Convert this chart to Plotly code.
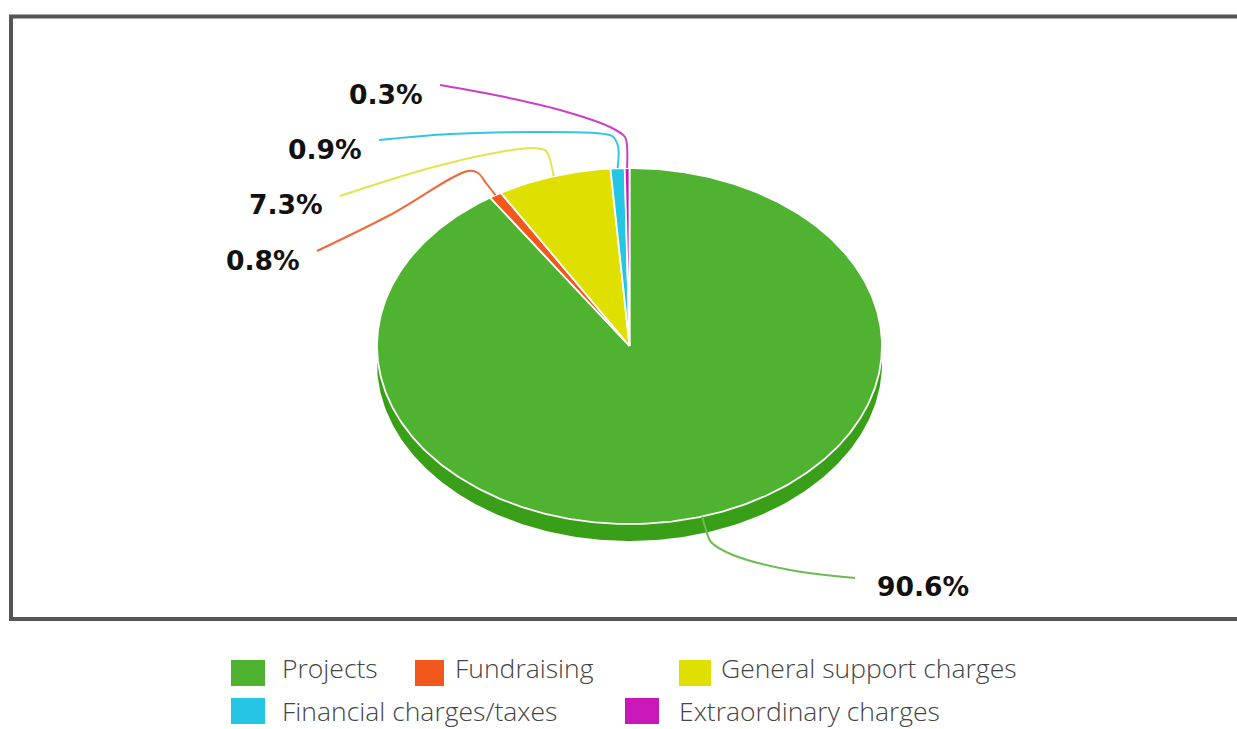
import numpy as np
import plotly.graph_objects as go

categories = ["Projects", "Fundraising", "General support charges", "Financial charges/taxes", "Extraordinary charges"]
values = [90.6, 0.8, 7.3, 0.9, 0.3]
value_labels = ["90.6%", "0.8%", "7.3%", "0.9%", "0.3%"]
colors = ["#50b231", "#f2581c", "#dfe000", "#25c5e6", "#c917b9"]
line_colors = ["#6dbb52", "#ee6a3c", "#e2e34f", "#35c3e6", "#cb3fc4"]

W, H = 1237, 729
CX, CY, A, B, DEPTH = 629.5, 346, 252.5, 178, 17


def pt(theta):
    return CX + A * np.sin(theta), CY - B * np.cos(theta)


fractions = np.array(values) / sum(values)
edges = np.concatenate([[0], np.cumsum(fractions)]) * 2 * np.pi
mids = (edges[:-1] + edges[1:]) / 2

fig = go.Figure()

# extruded rim
t = np.linspace(np.pi / 2, 3 * np.pi / 2, 200)
xr, yr = pt(t)
fig.add_trace(go.Scatter(
    x=np.concatenate([xr, xr[::-1]]), y=np.concatenate([yr, yr[::-1] + DEPTH]),
    mode="lines", fill="toself", fillcolor="#3a9f18", line=dict(width=0),
    hoverinfo="skip", showlegend=False))

# slices
for i, name in enumerate(categories):
    n = max(int((edges[i + 1] - edges[i]) * 80), 4)
    t = np.linspace(edges[i], edges[i + 1], n)
    xs, ys = pt(t)
    fig.add_trace(go.Scatter(
        x=np.concatenate([[CX], xs, [CX]]), y=np.concatenate([[CY], ys, [CY]]),
        mode="lines", fill="toself", fillcolor=colors[i],
        line=dict(color="white", width=1.8), name=name,
        text=f"{name}: {value_labels[i]}", hoverinfo="text", hoveron="fills", showlegend=False))

# leader-line routes, outward from each slice's rim point to its label
leader_routes = [
    [(706, 530), (711, 542), (733, 555), (790, 570), (855, 578)],
    [(486, 183), (478, 173), (468, 171), (390, 215), (317, 251)],
    [(550, 160), (546, 151), (534, 148), (500, 152), (430, 168), (340, 196)],
    [(618, 146), (612, 136), (595, 133), (530, 132), (450, 134), (379, 140)],
    [(627, 146), (625, 137), (610, 127), (560, 110), (500, 96), (440, 85)],
]
label_pos = [(923, 586), (263, 260), (286, 204), (325, 149), (386, 94)]

for i, route in enumerate(leader_routes):
    ax, ay = pt(mids[i])
    fig.add_trace(go.Scatter(
        x=[ax] + [p[0] for p in route], y=[ay] + [p[1] for p in route],
        mode="lines", line=dict(color=line_colors[i], width=2, shape="spline", smoothing=1.0),
        hoverinfo="skip", showlegend=False))
    fig.add_annotation(x=label_pos[i][0], y=label_pos[i][1], text=f"<b>{value_labels[i]}</b>",
                       showarrow=False, xanchor="center", yanchor="middle",
                       font=dict(family="DejaVu Sans", size=26.6, color="#111111"))

# frame
shapes = [dict(type="rect", xref="x", yref="y", x0=11, y0=16.5, x1=1260, y1=619,
               line=dict(color="#555555", width=4), layer="below")]

# legend
swatches = [(231, 265, 660, 686), (415, 444, 660, 686), (679, 711, 660, 686),
            (231, 265, 698, 724), (625, 659, 698, 724)]
legend_text_pos = [(282, 668), (455, 668), (721, 668), (282, 711), (679, 711)]
for i, name in enumerate(categories):
    x0, x1, y0, y1 = swatches[i]
    shapes.append(dict(type="rect", xref="x", yref="y", x0=x0, x1=x1, y0=y0, y1=y1,
                       fillcolor=colors[i], line=dict(width=0)))
    fig.add_annotation(x=legend_text_pos[i][0], y=legend_text_pos[i][1], text=name,
                       showarrow=False, xanchor="left", yanchor="middle", xshift=-2,
                       font=dict(family="Open Sans", size=26.5, color="#444444", weight=300))

fig.update_layout(
    width=W, height=H, margin=dict(l=0, r=0, t=0, b=0), autosize=False,
    paper_bgcolor="white", plot_bgcolor="white", shapes=shapes, showlegend=False,
    xaxis=dict(range=[0, W], visible=False, fixedrange=True),
    yaxis=dict(range=[H, 0], visible=False, fixedrange=True),
)
fig.write_html("out.html", config=dict(displayModeBar=False),
               post_script="document.body.style.margin='0';document.documentElement.style.overflow='hidden';")
